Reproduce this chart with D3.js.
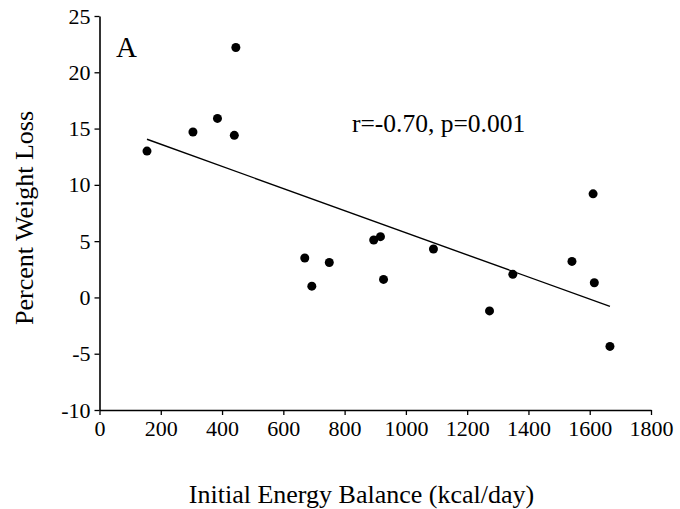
<!DOCTYPE html>
<html>
<head>
<meta charset="utf-8">
<script src="https://cdn.jsdelivr.net/npm/d3@7"></script>
<style>
  html, body { margin: 0; padding: 0; background: #fff; }
  svg { display: block; }
  text { font-family: "Liberation Serif", "Times New Roman", serif; fill: #000; }
</style>
</head>
<body>
<svg id="chart" width="680" height="509"></svg>
<script>
// Data
const energyBalance = [155, 305, 385, 445, 440, 670, 693, 750, 895, 917, 927, 1090, 1273, 1349, 1542, 1611, 1615, 1666];
const weightLoss    = [13.0, 14.7, 15.9, 22.2, 14.4, 3.5, 1.0, 3.1, 5.1, 5.4, 1.6, 4.3, -1.2, 2.05, 3.2, 9.2, 1.3, -4.35];
const fitX = [155, 1666];
const fitY = [14.05, -0.8];
const xTicks = [0, 200, 400, 600, 800, 1000, 1200, 1400, 1600, 1800];
const yTicks = [-10, -5, 0, 5, 10, 15, 20, 25];
const xTitle = "Initial Energy Balance (kcal/day)";
const yTitle = "Percent Weight Loss";
const panelLabel = "A";
const statsLabel = "r=-0.70, p=0.001";

const svg = d3.select("#chart");
const x = d3.scaleLinear().domain([0, 1800]).range([99.5, 651]);
const y = d3.scaleLinear().domain([-10, 25]).range([410, 16]);

// axes
const gx = svg.append("g").attr("transform", `translate(0,${y(-10)})`)
  .call(d3.axisBottom(x).tickValues(xTicks).tickFormat(d => String(d)).tickSize(5).tickPadding(5).tickSizeOuter(0));
const gy = svg.append("g").attr("transform", `translate(${x(0)},0)`)
  .call(d3.axisLeft(y).tickValues(yTicks).tickFormat(d => String(d)).tickSize(5).tickPadding(4).tickSizeOuter(0));
[gx, gy].forEach(g => {
  g.selectAll("path.domain").attr("stroke", "#000").attr("stroke-width", 1.6);
  g.selectAll(".tick line").attr("stroke", "#000").attr("stroke-width", 1.3);
  g.selectAll(".tick text").attr("font-family", "Liberation Serif, serif").attr("font-size", 22).attr("fill", "#000");
});

// regression line
svg.append("line")
  .attr("x1", x(fitX[0])).attr("y1", y(fitY[0]))
  .attr("x2", x(fitX[1])).attr("y2", y(fitY[1]))
  .attr("stroke", "#000").attr("stroke-width", 1.4);

// points
svg.append("g").selectAll("circle")
  .data(energyBalance.map((d, i) => [d, weightLoss[i]]))
  .join("circle")
  .attr("cx", d => x(d[0])).attr("cy", d => y(d[1]))
  .attr("r", 4.5).attr("fill", "#000");

// labels
svg.append("text").attr("x", 116).attr("y", 57).attr("font-size", 29).text(panelLabel);
svg.append("text").attr("x", 352).attr("y", 132).attr("font-size", 25.5).text(statsLabel);
svg.append("text").attr("x", 361.5).attr("y", 503).attr("text-anchor", "middle").attr("font-size", 26).text(xTitle);
svg.append("text").attr("transform", "translate(33,218) rotate(-90)").attr("text-anchor", "middle").attr("font-size", 26).text(yTitle);
</script>
</body>
</html>
